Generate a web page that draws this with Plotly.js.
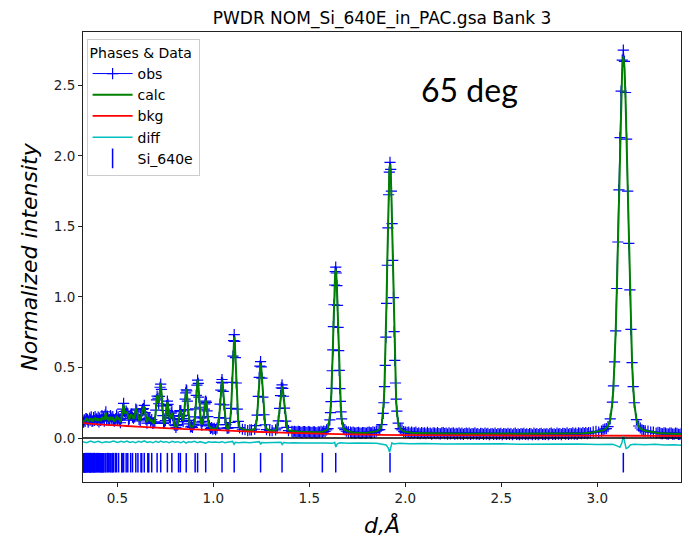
<!DOCTYPE html>
<html>
<head>
<meta charset="utf-8">
<script src="https://cdn.plot.ly/plotly-3.0.1.min.js"></script>
<style>html,body{margin:0;padding:0;background:#fff;}#chart{width:682px;height:541px;}</style>
</head>
<body>
<div id="chart"></div>
<script>
// d-spacing (Å) of observed / calculated points
const dObs = [
0.320,0.324,0.328,0.332,0.336,0.340,0.344,0.348,0.352,0.356,
0.360,0.364,0.368,0.372,0.376,0.380,0.384,0.388,0.392,0.396,
0.400,0.404,0.408,0.412,0.416,0.420,0.424,0.428,0.432,0.436,
0.440,0.444,0.448,0.452,0.456,0.460,0.464,0.468,0.472,0.476,
0.480,0.484,0.488,0.492,0.496,0.500,0.504,0.508,0.512,0.516,
0.520,0.524,0.528,0.5326,0.537,0.541,0.5458,0.550,0.5543,0.558,
0.562,0.5693,0.574,0.579,0.584,0.590,0.5961,0.601,0.6072,0.613,
0.619,0.623,0.6271,0.6315,0.6358,0.6401,0.6445,0.649,0.654,0.659,
0.6635,0.6685,0.6735,0.6789,0.6845,0.690,0.695,0.700,0.7035,0.7071,
0.711,0.715,0.719,0.7225,0.7258,0.7292,0.733,0.737,0.741,0.746,
0.750,0.754,0.7575,0.7605,0.764,0.768,0.772,0.7765,0.7805,0.7839,
0.7875,0.7915,0.796,0.8005,0.805,0.810,0.815,0.8188,0.8225,0.8255,
0.8282,0.831,0.8345,0.8385,0.8425,0.8465,0.850,0.853,0.856,0.8587,
0.8615,0.8645,0.868,0.872,0.8765,0.881,0.886,0.891,0.896,0.900,
0.904,0.9075,0.911,0.9145,0.918,0.9215,0.925,0.9285,0.932,0.936,
0.940,0.9445,0.949,0.953,0.9565,0.9601,0.9637,0.9672,0.971,0.975,
0.9795,0.985,0.991,0.997,1.0046,1.0117,1.0188,1.0249,1.0300,1.0351,
1.0391,1.0422,1.0452,1.0482,1.0513,1.0554,1.0604,1.0655,1.0716,1.0762,
1.0808,1.0872,1.0926,1.0979,1.1022,1.1054,1.1086,1.1118,1.1150,1.1193,
1.1247,1.1300,1.1364,1.1514,1.1650,1.1790,1.1900,1.1984,1.2151,1.2222,
1.2282,1.2341,1.2389,1.2424,1.2460,1.2496,1.2531,1.2579,1.2639,1.2698,
1.2769,1.2936,1.3062,1.3243,1.3320,1.3385,1.3449,1.3501,1.3539,1.3578,
1.3617,1.3655,1.3707,1.3772,1.3836,1.3913,1.4094,1.4160,1.4230,1.4295,
1.4360,1.4425,1.4490,1.4555,1.4620,1.4685,1.4750,1.4815,1.4880,1.4945,
1.5010,1.5075,1.5140,1.5205,1.5270,1.5335,1.5400,1.5465,1.5530,1.5608,
1.5678,1.5750,1.5822,1.5900,1.5976,1.6068,1.6099,1.6129,1.6160,1.6191,
1.6222,1.6252,1.6283,1.6314,1.6344,1.6375,1.6406,1.6436,1.6467,1.6498,
1.6529,1.6559,1.6590,1.6621,1.6651,1.6682,1.6774,1.6850,1.6928,1.7035,
1.7143,1.7210,1.7280,1.7350,1.7420,1.7490,1.7560,1.7630,1.7700,1.7770,
1.7840,1.7910,1.7980,1.8050,1.8120,1.8175,1.8230,1.8312,1.8400,1.8490,
1.8580,1.8668,1.8775,1.8846,1.8882,1.8917,1.8953,1.8988,1.9024,1.9060,
1.9095,1.9131,1.9166,1.9202,1.9238,1.9273,1.9309,1.9344,1.9380,1.9416,
1.9451,1.9487,1.9522,1.9558,1.9629,1.9736,1.9825,1.9914,2.0003,2.0092,
2.0175,2.0250,2.0325,2.0400,2.0475,2.0550,2.0625,2.0700,2.0775,2.0850,
2.0925,2.1000,2.1075,2.1150,2.1225,2.1300,2.1375,2.1450,2.1525,2.1600,
2.1675,2.1750,2.1825,2.1900,2.1975,2.2050,2.2125,2.2200,2.2275,2.2350,
2.2425,2.2500,2.2575,2.2650,2.2725,2.2800,2.2875,2.2950,2.3025,2.3100,
2.3175,2.3250,2.3325,2.3400,2.3475,2.3550,2.3625,2.3700,2.3775,2.3850,
2.3925,2.4000,2.4075,2.4150,2.4225,2.4300,2.4375,2.4450,2.4525,2.4600,
2.4675,2.4750,2.4825,2.4900,2.4975,2.5050,2.5125,2.5200,2.5275,2.5350,
2.5425,2.5500,2.5575,2.5650,2.5725,2.5800,2.5875,2.5950,2.6025,2.6100,
2.6175,2.6250,2.6325,2.6400,2.6475,2.6550,2.6625,2.6700,2.6775,2.6850,
2.6925,2.7000,2.7075,2.7150,2.7225,2.7300,2.7375,2.7450,2.7525,2.7600,
2.7675,2.7750,2.7825,2.7900,2.7975,2.8050,2.8125,2.8200,2.8275,2.8350,
2.8425,2.8500,2.8575,2.8650,2.8725,2.8800,2.8875,2.8950,2.9025,2.9100,
2.9175,2.9250,2.9325,2.9400,2.9475,2.9550,
2.9646,2.9788,2.9931,3.0074,3.0216,3.0300,3.0387,3.0470,3.0558,3.0672,
3.0786,3.0843,3.0900,3.0957,3.1014,3.1071,3.1128,3.1185,3.1242,3.1299,
3.1356,3.1413,3.1470,3.1527,3.1584,3.1641,3.1698,3.1755,3.1812,3.1869,
3.1926,3.2040,3.2154,3.2240,3.2325,3.2410,3.2496,3.2640,3.2781,3.2920,
3.3066,3.3160,3.3250,3.3325,3.3400,3.3475,3.3550,3.3625,3.3700,3.3775,
3.3850,3.3925,3.4000,3.4075,3.4150,3.4225,3.4300,3.4375,3.4450
];
// observed normalized intensity
const yObs = [
0.125,0.112,0.128,0.118,0.138,0.135,0.130,0.112,0.126,0.142,
0.128,0.150,0.118,0.122,0.145,0.124,0.152,0.130,0.136,0.126,
0.148,0.115,0.142,0.124,0.130,0.158,0.132,0.148,0.120,0.162,
0.185,0.128,0.156,0.135,0.124,0.130,0.158,0.142,0.126,0.152,
0.132,0.120,0.130,0.138,0.162,0.125,0.148,0.135,0.128,0.108,
0.138,0.158,0.205,0.245,0.188,0.170,0.190,0.178,0.172,0.126,
0.138,0.160,0.170,0.148,0.140,0.150,0.205,0.198,0.158,0.132,
0.122,0.165,0.186,0.203,0.208,0.232,0.180,0.133,0.106,0.138,
0.142,0.140,0.118,0.130,0.104,0.107,0.114,0.198,0.270,0.297,
0.282,0.243,0.295,0.360,0.382,0.345,0.228,0.158,0.104,0.113,
0.124,0.195,0.230,0.262,0.238,0.170,0.146,0.140,0.176,0.185,
0.158,0.137,0.094,0.090,0.075,0.089,0.095,0.132,0.155,0.195,
0.190,0.193,0.155,0.137,0.116,0.160,0.202,0.275,0.320,0.342,
0.334,0.262,0.200,0.125,0.100,0.078,0.083,0.076,0.093,0.098,
0.150,0.207,0.302,0.375,0.410,0.388,0.290,0.218,0.142,0.112,
0.092,0.118,0.143,0.205,0.242,0.262,0.253,0.193,0.152,0.098,
0.086,0.068,0.073,0.062,0.068,0.060,0.070,0.094,0.145,0.240,
0.340,0.395,0.415,0.390,0.330,0.235,0.140,0.095,0.070,0.070,
0.074,0.110,0.210,0.395,0.580,0.690,0.733,0.685,0.570,0.390,
0.205,0.118,0.074,0.062,0.060,0.052,0.058,0.058,0.062,0.088,
0.162,0.295,0.430,0.510,0.542,0.505,0.425,0.290,0.165,0.094,
0.060,0.053,0.052,0.058,0.070,0.122,0.210,0.300,0.355,0.377,
0.352,0.296,0.212,0.120,0.076,0.052,0.047,0.043,0.048,0.044,
0.041,0.047,0.046,0.040,0.040,0.045,0.045,0.041,0.039,0.046,
0.044,0.040,0.038,0.043,0.043,0.039,0.037,0.044,0.042,0.047,
0.042,0.049,0.046,0.058,0.066,0.128,0.180,0.258,0.352,0.477,
0.625,0.790,0.945,1.085,1.180,1.212,1.170,1.080,0.940,0.785,
0.620,0.480,0.350,0.260,0.185,0.136,0.070,0.060,0.048,0.043,
0.042,0.037,0.041,0.036,0.034,0.039,0.040,0.035,0.033,0.038,
0.039,0.034,0.035,0.040,0.041,0.036,0.037,0.044,0.040,0.049,
0.056,0.060,0.095,0.175,0.250,0.365,0.515,0.715,0.955,1.225,
1.490,1.725,1.885,1.955,1.905,1.750,1.520,1.260,0.995,0.755,
0.550,0.390,0.275,0.190,0.105,0.066,0.057,0.045,0.041,0.040,
0.042,0.033,0.042,0.034,0.037,0.042,0.032,0.037,0.030,0.039,
0.033,0.037,0.030,0.040,0.032,0.035,0.028,0.037,0.035,0.030,
0.038,0.031,0.029,0.036,0.038,0.031,0.034,0.027,0.036,0.029,
0.033,0.037,0.027,0.033,0.029,0.037,0.028,0.034,0.026,0.032,
0.035,0.029,0.035,0.026,0.032,0.029,0.036,0.027,0.031,0.025,
0.033,0.032,0.026,0.035,0.027,0.033,0.024,0.030,0.032,0.026,
0.035,0.025,0.031,0.028,0.033,0.024,0.032,0.030,0.026,0.033,
0.026,0.032,0.023,0.030,0.034,0.025,0.029,0.024,0.031,0.027,
0.033,0.025,0.030,0.024,0.032,0.029,0.023,0.034,0.026,0.031,
0.024,0.030,0.033,0.025,0.029,0.026,0.032,0.023,0.031,0.034,
0.026,0.030,0.025,0.034,0.027,0.032,0.024,0.033,0.032,0.027,
0.036,0.026,0.032,0.029,0.036,0.028,0.034,0.026,0.036,0.033,
0.030,0.038,0.032,0.038,0.031,0.038,
0.036,0.043,0.047,0.042,0.049,0.058,0.064,0.066,0.080,0.135,
0.255,0.370,0.540,0.760,1.060,1.390,1.760,2.130,2.460,2.680,
2.750,2.670,2.450,2.120,1.750,1.380,1.050,0.770,0.535,0.365,
0.250,0.130,0.085,0.071,0.058,0.053,0.050,0.049,0.041,0.042,
0.035,0.040,0.038,0.031,0.030,0.037,0.035,0.029,0.027,0.035,
0.034,0.028,0.028,0.034,0.033,0.026,0.026,0.033,0.031
];
// calculated profile
const yCalc = [
0.118,0.118,0.119,0.121,0.130,0.142,0.127,0.118,0.120,0.135,
0.132,0.140,0.126,0.116,0.138,0.130,0.145,0.124,0.142,0.120,
0.140,0.122,0.136,0.128,0.122,0.150,0.138,0.140,0.128,0.155,
0.180,0.132,0.148,0.140,0.118,0.135,0.150,0.136,0.132,0.148,
0.138,0.115,0.135,0.128,0.158,0.130,0.142,0.140,0.122,0.112,
0.131,0.165,0.210,0.239,0.180,0.177,0.181,0.184,0.165,0.132,
0.131,0.165,0.163,0.154,0.133,0.154,0.210,0.192,0.165,0.127,
0.128,0.157,0.191,0.197,0.213,0.226,0.186,0.127,0.112,0.132,
0.147,0.135,0.123,0.126,0.110,0.100,0.118,0.191,0.263,0.303,
0.276,0.250,0.287,0.354,0.388,0.337,0.235,0.151,0.109,0.107,
0.129,0.187,0.236,0.257,0.232,0.177,0.140,0.146,0.170,0.179,
0.163,0.131,0.099,0.085,0.080,0.084,0.100,0.127,0.161,0.189,
0.197,0.187,0.161,0.130,0.122,0.153,0.208,0.268,0.327,0.346,
0.327,0.268,0.195,0.130,0.094,0.083,0.079,0.081,0.087,0.103,
0.145,0.213,0.295,0.380,0.413,0.381,0.296,0.212,0.148,0.107,
0.097,0.112,0.149,0.199,0.247,0.267,0.247,0.198,0.146,0.104,
0.081,0.072,0.068,0.067,0.065,0.064,0.072,0.091,0.141,0.237,
0.332,0.389,0.412,0.389,0.332,0.237,0.141,0.091,0.072,0.066,
0.076,0.113,0.207,0.388,0.568,0.675,0.718,0.675,0.568,0.388,
0.207,0.113,0.076,0.064,0.056,0.055,0.055,0.055,0.064,0.091,
0.159,0.291,0.422,0.500,0.531,0.500,0.422,0.291,0.159,0.091,
0.064,0.055,0.049,0.055,0.073,0.118,0.206,0.293,0.345,0.366,
0.345,0.293,0.206,0.118,0.073,0.055,0.049,0.047,0.045,0.045,
0.044,0.044,0.043,0.043,0.043,0.043,0.042,0.042,0.042,0.042,
0.041,0.041,0.041,0.041,0.040,0.040,0.040,0.040,0.040,0.044,
0.045,0.046,0.050,0.055,0.069,0.133,0.182,0.254,0.349,0.472,
0.617,0.776,0.933,1.069,1.163,1.197,1.163,1.069,0.933,0.776,
0.617,0.472,0.349,0.254,0.182,0.133,0.069,0.057,0.050,0.046,
0.044,0.040,0.038,0.038,0.037,0.037,0.037,0.036,0.036,0.036,
0.036,0.036,0.037,0.037,0.038,0.039,0.040,0.041,0.043,0.047,
0.053,0.064,0.103,0.189,0.269,0.387,0.544,0.746,0.985,1.247,
1.505,1.730,1.885,1.940,1.885,1.730,1.505,1.247,0.985,0.746,
0.544,0.387,0.269,0.189,0.103,0.064,0.054,0.047,0.044,0.041,
0.039,0.037,0.037,0.036,0.036,0.036,0.035,0.035,0.035,0.035,
0.034,0.034,0.034,0.034,0.034,0.034,0.033,0.033,0.033,0.033,
0.033,0.033,0.033,0.033,0.032,0.032,0.032,0.032,0.032,0.032,
0.032,0.032,0.031,0.031,0.031,0.031,0.031,0.031,0.031,0.031,
0.031,0.031,0.030,0.030,0.030,0.030,0.030,0.030,0.030,0.030,
0.030,0.030,0.030,0.030,0.029,0.029,0.029,0.029,0.029,0.029,
0.029,0.029,0.029,0.029,0.029,0.029,0.029,0.029,0.029,0.028,
0.028,0.028,0.028,0.028,0.028,0.028,0.028,0.028,0.028,0.028,
0.028,0.028,0.028,0.028,0.028,0.028,0.028,0.028,0.028,0.028,
0.028,0.028,0.028,0.028,0.028,0.028,0.028,0.028,0.028,0.028,
0.029,0.029,0.029,0.029,0.029,0.029,0.029,0.029,0.030,0.030,
0.030,0.030,0.030,0.030,0.031,0.031,0.031,0.031,0.032,0.032,
0.033,0.033,0.034,0.034,0.035,0.035,
0.038,0.040,0.043,0.046,0.051,0.055,0.059,0.068,0.083,0.129,
0.249,0.362,0.528,0.748,1.032,1.367,1.734,2.096,2.412,2.629,
2.707,2.629,2.412,2.096,1.734,1.367,1.032,0.748,0.528,0.362,
0.249,0.129,0.083,0.068,0.059,0.055,0.051,0.047,0.043,0.040,
0.038,0.036,0.034,0.034,0.033,0.033,0.032,0.032,0.031,0.031,
0.031,0.031,0.030,0.030,0.030,0.030,0.029,0.029,0.029
];
// background
const dBkg = [0.32,0.40,0.50,0.60,0.70,0.80,0.90,1.00,1.20,1.40,1.60,1.80,2.00,2.40,2.80,3.20,3.44];
const yBkg = [0.105,0.097,0.089,0.081,0.073,0.066,0.061,0.057,0.045,0.036,0.029,0.024,0.020,0.018,0.017,0.016,0.015];
// difference curve (offset)
const dDiff = [0.32,0.34,0.36,0.38,0.40,0.42,0.44,0.46,0.48,0.50,0.52,0.535,0.55,0.565,0.58,0.595,0.61,0.625,0.64,0.655,
0.67,0.685,0.70,0.715,0.725,0.74,0.755,0.77,0.785,0.80,0.815,0.83,0.845,0.858,0.87,0.885,0.90,0.918,0.93,0.945,
0.96,0.975,0.99,1.01,1.03,1.045,1.06,1.08,1.10,1.108,1.115,1.13,1.16,1.19,1.22,1.24,1.246,1.252,1.27,1.30,
1.33,1.352,1.358,1.365,1.39,1.42,1.46,1.50,1.54,1.58,1.62,1.632,1.638,1.645,1.66,1.70,1.75,1.80,1.85,1.90,
1.912,1.918,1.924,1.93,1.94,1.97,2.02,2.10,2.20,2.30,2.40,2.50,2.60,2.70,2.80,2.90,3.00,3.08,3.10,3.118,
3.128,3.1356,3.142,3.150,3.160,3.172,3.19,3.25,3.30,3.35,3.40,3.44];
const yDiff = [-0.026,-0.034,-0.022,-0.032,-0.024,-0.034,-0.026,-0.030,-0.022,-0.032,-0.024,-0.030,-0.022,-0.032,-0.026,-0.034,-0.024,-0.030,-0.020,-0.032,
-0.026,-0.034,-0.024,-0.032,-0.022,-0.030,-0.026,-0.034,-0.024,-0.030,-0.026,-0.034,-0.024,-0.036,-0.026,-0.030,-0.024,-0.034,-0.026,-0.031,
-0.037,-0.026,-0.030,-0.028,-0.032,-0.026,-0.034,-0.028,-0.024,-0.044,-0.030,-0.034,-0.030,-0.034,-0.030,-0.026,-0.046,-0.032,-0.034,-0.032,
-0.035,-0.030,-0.046,-0.032,-0.035,-0.033,-0.036,-0.034,-0.037,-0.035,-0.038,-0.030,-0.064,-0.042,-0.034,-0.038,-0.036,-0.039,-0.037,-0.049,
-0.074,-0.102,-0.064,-0.034,-0.042,-0.038,-0.041,-0.039,-0.042,-0.040,-0.043,-0.041,-0.044,-0.042,-0.045,-0.043,-0.046,-0.044,-0.054,-0.066,
-0.034,0.014,-0.024,-0.074,-0.069,-0.049,-0.044,-0.048,-0.045,-0.050,-0.047,-0.052];
// Si_640e reflection positions (Å)
const dRefl = [0.3200,0.3228,0.3246,0.3275,0.3293,0.3318,0.3324,0.3343,0.3375,0.3394,0.3428,0.3449,0.3484,0.3535,0.3543,0.3566,0.3597,0.3605,0.3629,0.3670,
0.3695,0.3739,0.3766,0.3803,0.3812,0.3840,0.3889,0.3920,0.3972,0.4004,0.4059,0.4094,0.4141,0.4153,0.4190,0.4241,0.4254,0.4294,0.4362,0.4405,
0.4480,0.4526,0.4607,0.4657,0.4727,0.4745,0.4800,0.4897,0.4958,0.5065,0.5226,0.5250,0.5326,0.5458,0.5543,0.5693,0.5790,0.5961,0.6072,0.6230,
0.6271,0.6401,0.6586,0.6635,0.6789,0.7071,0.7258,0.7605,0.7839,0.8188,0.8282,0.8587,0.9052,0.9180,0.9601,1.0452,1.1086,1.2460,1.3578,1.5678,
1.6375,1.9202,3.1356];

const tickRowY = -0.175;
const FONT = 'DejaVu Sans, sans-serif';

const traces = [
  {x: dObs, y: yObs, name: 'obs', type: 'scatter', mode: 'lines+markers',
   line: {color: '#0000ff', width: 1},
   marker: {symbol: 'cross-thin', size: 8, color: '#0000ff', line: {color: '#0000ff', width: 1.2}}},
  {x: dObs, y: yCalc, name: 'calc', type: 'scatter', mode: 'lines',
   line: {color: '#008000', width: 2}},
  {x: dBkg, y: yBkg, name: 'bkg', type: 'scatter', mode: 'lines', line: {color: '#ff0000', width: 1.8, shape: 'spline'}},
  {x: dDiff, y: yDiff, name: 'diff', type: 'scatter', mode: 'lines', line: {color: '#00bfbf', width: 1.5}},
  {x: dRefl, y: dRefl.map(() => tickRowY), name: 'Si_640e', type: 'scatter', mode: 'markers',
   marker: {symbol: 'line-ns', size: 14, color: '#0000ff', line: {color: '#0000ff', width: 1.5}}}
];

const layout = {
  width: 682, height: 541,
  margin: {l: 83, r: 1, t: 32, b: 59},
  paper_bgcolor: '#ffffff', plot_bgcolor: '#ffffff',
  font: {family: FONT, color: '#000'},
  showlegend: true,
  title: {text: 'PWDR NOM_Si_640E_in_PAC.gsa Bank 3', xref: 'paper', x: 0.5, xanchor: 'center',
          yref: 'container', y: 0.967, yanchor: 'middle', font: {family: FONT, size: 17, color: '#000'}},
  xaxis: {range: [0.321, 3.436], showgrid: false, zeroline: false, showline: true, mirror: true,
          linecolor: '#222', linewidth: 1, ticks: 'outside', ticklen: 4, tickcolor: '#222',
          tick0: 0, dtick: 0.5, tickformat: '.1f', automargin: false,
          tickfont: {family: FONT, size: 13.5, color: '#222'},
          title: {text: 'd,Å', standoff: 12, font: {family: FONT, size: 22, style: 'italic', color: '#000'}}},
  yaxis: {range: [-0.312, 2.879], showgrid: false, zeroline: false, showline: true, mirror: true,
          linecolor: '#222', linewidth: 1, ticks: 'outside', ticklen: 4, tickcolor: '#222',
          tick0: 0, dtick: 0.5, tickformat: '.1f', automargin: false,
          tickfont: {family: FONT, size: 13.5, color: '#222'},
          title: {text: 'Normalized intensity', standoff: 10, font: {family: FONT, size: 22, style: 'italic', color: '#000'}}},
  legend: {x: 0.006, y: 0.985, xanchor: 'left', yanchor: 'top', bgcolor: '#ffffff',
           bordercolor: '#cccccc', borderwidth: 1, itemwidth: 40,
           font: {family: FONT, size: 14, color: '#000'},
           title: {text: 'Phases & Data', side: 'top', font: {family: FONT, size: 14, color: '#000'}}},
  shapes: [{type: 'line', xref: 'paper', x0: 0, x1: 1, yref: 'y', y0: 0, y1: 0,
            line: {color: '#000', width: 1.5}, layer: 'above'}],
  annotations: [{text: '65 deg', xref: 'paper', yref: 'paper', x: 0.647, y: 0.873,
                 xanchor: 'center', yanchor: 'middle', showarrow: false,
                 font: {family: 'Lato, Open Sans, sans-serif', size: 32, color: '#000'}}]
};

Plotly.newPlot('chart', traces, layout, {displayModeBar: false, staticPlot: true});
</script>
</body>
</html>
